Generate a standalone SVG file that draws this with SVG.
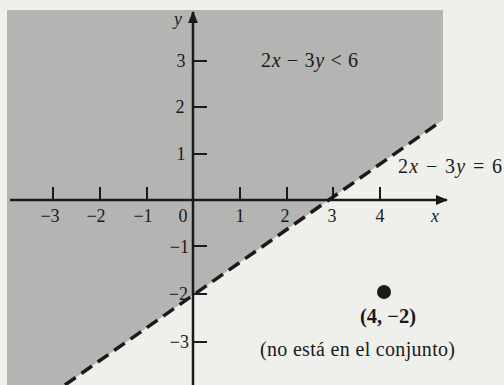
<svg xmlns="http://www.w3.org/2000/svg" width="504" height="385" viewBox="0 0 504 385">
<defs>
<style>
.t{font-family:"Liberation Serif","Times New Roman",serif;font-size:18px;fill:#1a1a1a}
.i{font-style:italic}
.ax{stroke:#1a1a1a;stroke-width:2.5;fill:none}
.tk{stroke:#1a1a1a;stroke-width:2;fill:none}
</style>
<marker id="ah" viewBox="0 0 10 10" refX="9" refY="5" markerWidth="5" markerHeight="5" orient="auto" markerUnits="strokeWidth"><path d="M0,1 L10,5 L0,9 Z" fill="#1a1a1a"/></marker>
</defs>
<rect x="0" y="0" width="504" height="385" fill="#efefec"/>
<g id="region">
<polygon points="7,10 443,10 443,120 440,122 65,385 7,385" fill="#b4b4b2"/>
</g>
<g id="connectors">
<line class="ax" x1="10" y1="200" x2="447" y2="200" marker-end="url(#ah)"/>
<line class="ax" x1="193" y1="385" x2="193" y2="12" marker-end="url(#ah)"/>
<line x1="65" y1="385" x2="440" y2="122" stroke="#1a1a1a" stroke-width="3.5" stroke-dasharray="13,7"/>
<g class="tk">
<line x1="53" y1="187" x2="53" y2="200"/>
<line x1="100" y1="187" x2="100" y2="200"/>
<line x1="147" y1="187" x2="147" y2="200"/>
<line x1="240" y1="187" x2="240" y2="200"/>
<line x1="287" y1="187" x2="287" y2="200"/>
<line x1="333" y1="187" x2="333" y2="200"/>
<line x1="380" y1="187" x2="380" y2="200"/>
<line x1="193" y1="61" x2="207" y2="61"/>
<line x1="193" y1="107" x2="207" y2="107"/>
<line x1="193" y1="154" x2="207" y2="154"/>
<line x1="193" y1="246" x2="207" y2="246"/>
<line x1="193" y1="294" x2="207" y2="294"/>
<line x1="193" y1="342" x2="207" y2="342"/>
</g>
</g>
<g id="labels">
<text class="t i" x="178" y="25" text-anchor="middle">y</text>
<text class="t i" x="435" y="222" text-anchor="middle">x</text>
<text class="t" x="181" y="67" text-anchor="middle">3</text>
<text class="t" x="180" y="113" text-anchor="middle">2</text>
<text class="t" x="181" y="160" text-anchor="middle">1</text>
<text class="t" x="189" y="253" text-anchor="end">−1</text>
<text class="t" x="188" y="300" text-anchor="end">−2</text>
<text class="t" x="189" y="348" text-anchor="end">−3</text>
<text class="t" x="50" y="222" text-anchor="middle">−3</text>
<text class="t" x="96" y="222" text-anchor="middle">−2</text>
<text class="t" x="143" y="222" text-anchor="middle">−1</text>
<text class="t" x="183" y="222" text-anchor="middle">0</text>
<text class="t" x="240" y="222" text-anchor="middle">1</text>
<text class="t" x="285" y="222" text-anchor="middle">2</text>
<text class="t" x="332" y="222" text-anchor="middle">3</text>
<text class="t" x="380" y="222" text-anchor="middle">4</text>
</g>
<g id="ineq">
<text class="t" x="261" y="67" style="font-size:20px" textLength="97" lengthAdjust="spacing">2<tspan class="i">x</tspan> − 3<tspan class="i">y</tspan> &lt; 6</text>
</g>
<g id="boundary">
<text class="t" x="398" y="173" style="font-size:20px" textLength="104" lengthAdjust="spacing">2<tspan class="i">x</tspan> − 3<tspan class="i">y</tspan> = 6</text>
</g>
<g id="point">
<circle cx="384" cy="292" r="7" fill="#1a1a1a"/>
<text class="t" x="360" y="323" style="font-size:20px;font-weight:bold" textLength="56" lengthAdjust="spacingAndGlyphs">(4, −2)</text>
<text class="t" x="260" y="356" style="font-size:20px" textLength="195" lengthAdjust="spacing">(no está en el conjunto)</text>
</g>
</svg>
